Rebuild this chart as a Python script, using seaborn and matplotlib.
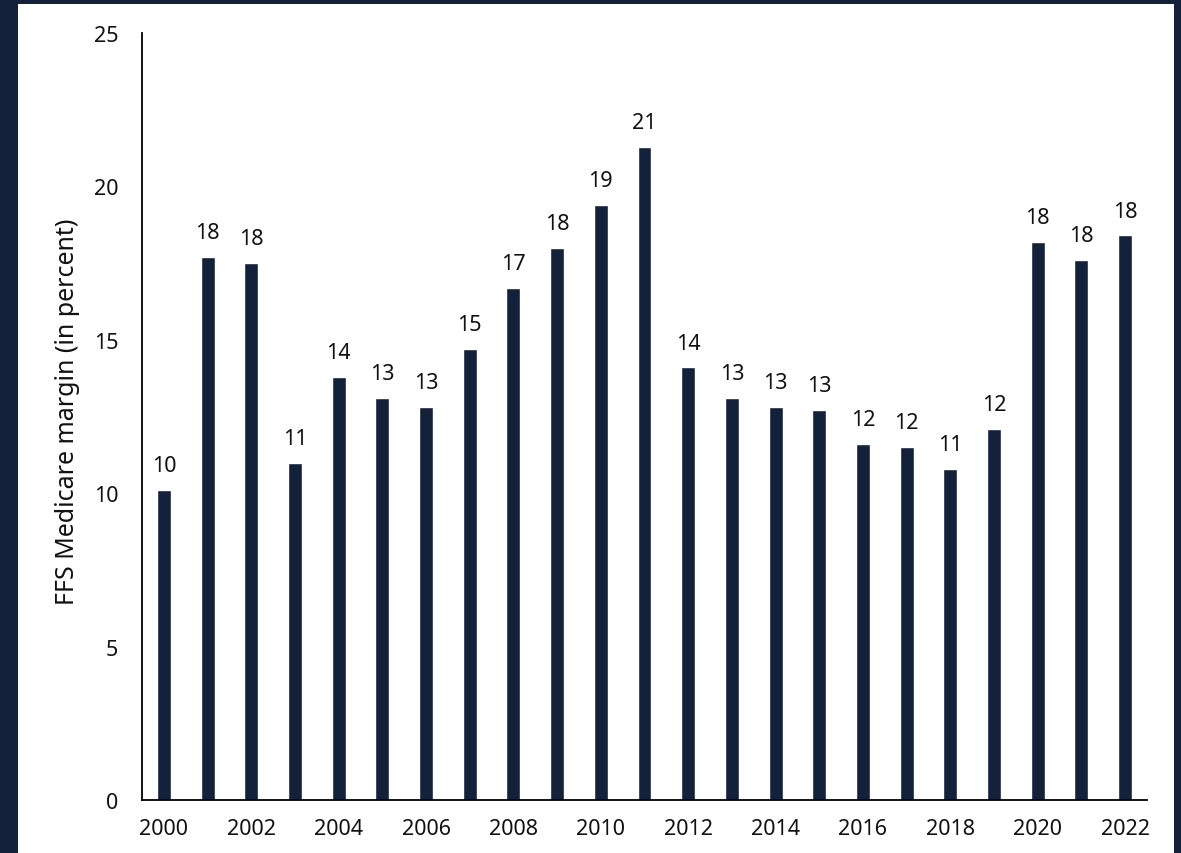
import matplotlib
matplotlib.use("Agg")
import matplotlib.pyplot as plt
import seaborn as sns
import pandas as pd
from matplotlib.patches import Rectangle

years = [str(y) for y in range(2000, 2023)]
margins = [10.1, 17.7, 17.5, 11.0, 13.8, 13.1, 12.8, 14.7, 16.7, 18.0, 19.4, 21.3,
           14.1, 13.1, 12.8, 12.7, 11.6, 11.5, 10.8, 12.1, 18.2, 17.6, 18.4]
bar_labels = ["10", "18", "18", "11", "14", "13", "13", "15", "17", "18", "19", "21",
              "14", "13", "13", "13", "12", "12", "11", "12", "18", "18", "18"]
tick_years = years[::2]
y_ticks = [0, 5, 10, 15, 20, 25]

NAVY = "#13213A"

sns.set_theme(style="white")
plt.rcParams["font.family"] = ["Noto Sans", "DejaVu Sans"]

fig = plt.figure(figsize=(11.81, 8.54), dpi=100)
fig.patch.set_facecolor(NAVY)
fig.add_artist(Rectangle((18 / 1181, 0), (1174 - 18) / 1181, (854 - 5) / 854,
                         transform=fig.transFigure, facecolor="white",
                         edgecolor="none", zorder=-10))

ax = fig.add_axes([142 / 1181, (854 - 801) / 854, (1147 - 142) / 1181, (801 - 34) / 854])
ax.set_facecolor("none")
ax.set_zorder(5)

df = pd.DataFrame({"year": years, "margin": margins})
sns.barplot(data=df, x="year", y="margin", order=years, color=NAVY,
            saturation=1, width=0.32, ax=ax)

ax.bar_label(ax.containers[0], labels=bar_labels, padding=10, fontsize=15.5,
             color="#111111")

ax.set_xlim(-0.5, len(years) - 0.5)
ax.set_ylim(0, 25)
ax.set_yticks(y_ticks)
ax.set_yticklabels([str(t) for t in y_ticks])
ax.set_xticks(range(0, len(years), 2))
ax.set_xticklabels(tick_years)
ax.tick_params(axis="both", length=0, labelsize=15.5, labelcolor="#111111")
ax.tick_params(axis="y", pad=17)
ax.tick_params(axis="x", pad=13)

ax.set_xlabel("")
ax.set_ylabel("FFS Medicare margin (in percent)", fontsize=18, color="#111111")
ax.yaxis.set_label_coords(-0.062, 0.508)

for s in ["top", "right"]:
    ax.spines[s].set_visible(False)
for s in ["left", "bottom"]:
    ax.spines[s].set_color("black")
    ax.spines[s].set_linewidth(1.3)

fig.savefig("out.png", dpi=100, facecolor=fig.get_facecolor())
